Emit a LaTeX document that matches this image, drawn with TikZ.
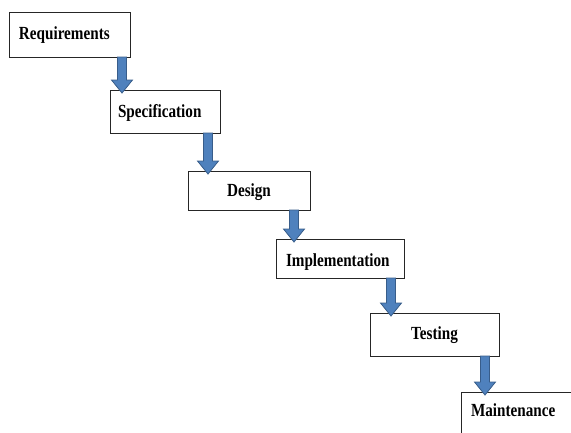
\documentclass[tikz,border=0pt]{standalone}
\usepackage{fontspec}
\newfontfamily\lbl[FakeStretch=0.82]{Liberation Serif}
\usetikzlibrary{calc}
\definecolor{arrowfill}{HTML}{4F81BD}
\definecolor{arrowline}{HTML}{385D8A}

% Block arrow dropping from the bottom of #1 onto the top of #2,
% placed #3 pt left of the right edge of #1.
\newcommand\flowarrow[3]{%
  \coordinate (fa-s) at ($(#1.south east)+(-#3,0)$);
  \coordinate (fa-t) at ($(#2.north -| fa-s)+(0,3)$);
  \draw[flow] let \p1=(fa-s), \p2=(fa-t) in
    (\x1-4.5pt,\y1) -- (\x1-4.5pt,\y2+13pt) -- (\x1-10.5pt,\y2+13pt)
    -- (\x1,\y2) -- (\x1+10.5pt,\y2+13pt) -- (\x1+4.5pt,\y2+13pt)
    -- (\x1+4.5pt,\y1) -- cycle;}

\begin{document}
\begin{tikzpicture}[x=1pt,y=-1pt,
  box/.style={draw=black!85, fill=white, line width=0.9pt, anchor=north west,
    outer sep=0pt, inner ysep=0pt, font=\lbl\bfseries\fontsize{18.5}{20}\selectfont},
  flow/.style={fill=arrowfill, draw=arrowline, line width=0.8pt, line join=miter}]
\useasboundingbox (0,0) rectangle (571,432);
\clip (0,0) rectangle (571,432);

% phases
\node[box, text width=101pt, inner xsep=10pt, align=left,
  text height=27pt, text depth=18pt] (req) at (9,12) {Requirements};
\node[box, text width=94pt, inner xsep=8pt, align=left,
  text height=27pt, text depth=16pt] (spec) at (110,90) {Specification};
\node[box, text width=106pt, inner xsep=8pt, align=center,
  text height=25pt, text depth=14pt] (design) at (188,171) {Design};
\node[box, text width=108pt, inner xsep=10pt, align=left,
  text height=27pt, text depth=12pt] (impl) at (276,239) {Implementation};
\node[box, text width=113pt, inner xsep=8pt, align=center,
  text height=26pt, text depth=17pt] (test) at (370,313) {Testing};
\node[box, text width=110pt, inner xsep=10pt, align=left,
  text height=24pt, text depth=36pt] (maint) at (461,392) {Maintenance};

% hand-offs between phases
\flowarrow{req}{spec}{8}
\flowarrow{spec}{design}{12}
\flowarrow{design}{impl}{16}
\flowarrow{impl}{test}{13}
\flowarrow{test}{maint}{14}
\end{tikzpicture}
\end{document}
